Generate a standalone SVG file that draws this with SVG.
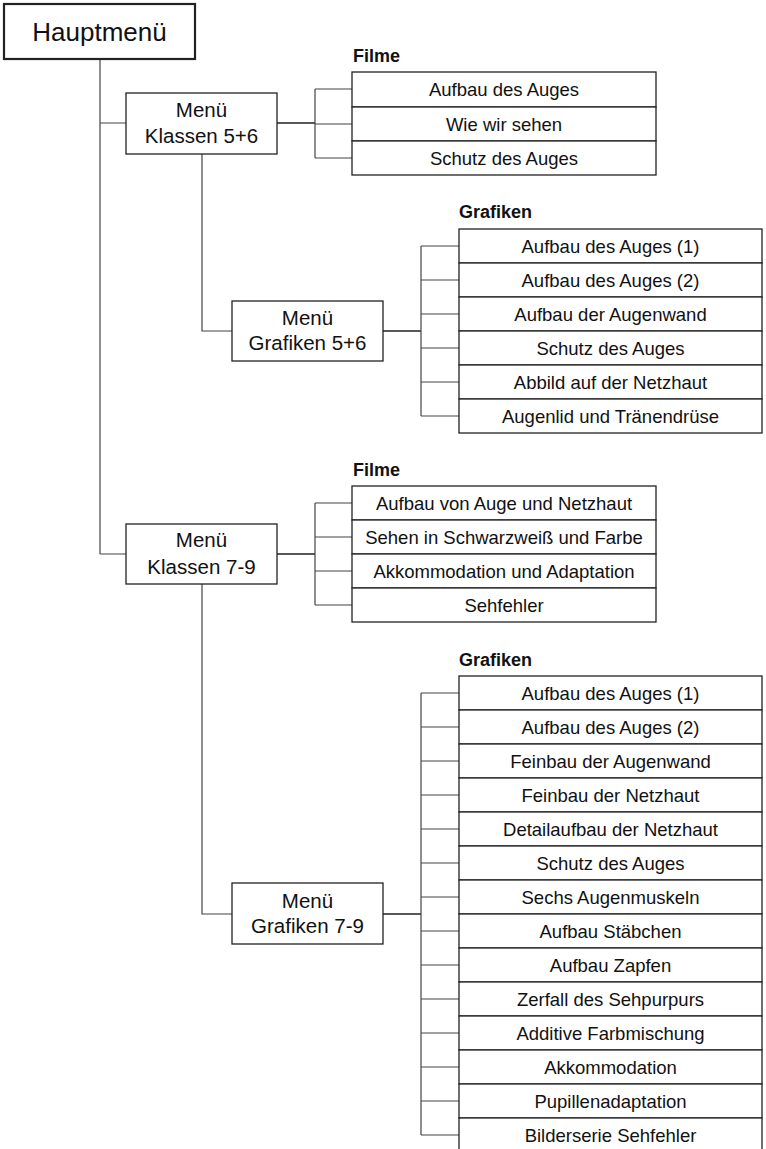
<svg xmlns="http://www.w3.org/2000/svg" width="766" height="1149" viewBox="0 0 766 1149">
<style>
.bg{fill:#fff}
.box{fill:#fff;stroke:#222;stroke-width:1.3}
.main{fill:#fff;stroke:#222;stroke-width:2.2}
.t{font-family:"Liberation Sans",Arial,sans-serif;font-size:18.5px;fill:#111;text-anchor:middle}
.m{font-family:"Liberation Sans",Arial,sans-serif;font-size:20.5px;fill:#111;text-anchor:middle}
.h{font-family:"Liberation Sans",Arial,sans-serif;font-size:26px;fill:#111;text-anchor:middle}
.l{font-family:"Liberation Sans",Arial,sans-serif;font-size:18px;font-weight:bold;fill:#111}
.c{fill:none;stroke:#444;stroke-width:1.2}
.k{fill:none;stroke:#222;stroke-width:1.6}
</style>
<rect class="bg" x="0" y="0" width="766" height="1149"/>
<g id="connectors">
<path class="c" d="M100,59 V554 M100,123 H126 M100,554 H126"/>
<path class="c" d="M202,154 V331 H232 M202,584 V914 H232"/>
<path class="k" d="M277,123 H315 M383,331 H421 M277,554 H315 M383,914 H421"/>
<path class="c" d="M315,89 V158 M315,89 H352 M315,124 H352 M315,158 H352"/>
<path class="c" d="M421,246 V416 M421,246 H459 M421,280 H459 M421,314 H459 M421,348 H459 M421,382 H459 M421,416 H459"/>
<path class="c" d="M315,503 V605 M315,503 H352 M315,537 H352 M315,571 H352 M315,605 H352"/>
<path class="c" d="M421,693 V1135 M421,693 H459 M421,727 H459 M421,761 H459 M421,795 H459 M421,829 H459 M421,863 H459 M421,897 H459 M421,931 H459 M421,965 H459 M421,999 H459 M421,1033 H459 M421,1067 H459 M421,1101 H459 M421,1135 H459"/>
</g>
<g id="hauptmenu"><rect class="main" x="4" y="4" width="191" height="55"/><text class="h" x="99.5" y="41">Hauptmenü</text></g>
<g id="klassen56"><rect class="box" x="126" y="93" width="151" height="61"/><text class="m" x="201.5" y="117">Menü</text><text class="m" x="201.5" y="143">Klassen 5+6</text></g>
<g id="grafiken56"><rect class="box" x="232" y="301" width="151" height="60"/><text class="m" x="307.5" y="325">Menü</text><text class="m" x="307.5" y="350">Grafiken 5+6</text></g>
<g id="klassen79"><rect class="box" x="126" y="524" width="151" height="60"/><text class="m" x="201.5" y="547">Menü</text><text class="m" x="201.5" y="574">Klassen 7-9</text></g>
<g id="grafiken79"><rect class="box" x="232" y="883" width="151" height="61"/><text class="m" x="307.5" y="908">Menü</text><text class="m" x="307.5" y="933">Grafiken 7-9</text></g>
<g id="filme56">
<text class="l" x="353" y="62">Filme</text>
<g id="f56-1"><rect class="box" x="352" y="72" width="304" height="35"/><text class="t" x="504" y="96">Aufbau des Auges</text></g>
<g id="f56-2"><rect class="box" x="352" y="107" width="304" height="34"/><text class="t" x="504" y="130.5">Wie wir sehen</text></g>
<g id="f56-3"><rect class="box" x="352" y="141" width="304" height="34"/><text class="t" x="504" y="164.5">Schutz des Auges</text></g>
</g>
<g id="graf56">
<text class="l" x="459" y="218">Grafiken</text>
<g id="g56-1"><rect class="box" x="459" y="229" width="303" height="34"/><text class="t" x="610.5" y="252.5">Aufbau des Auges (1)</text></g>
<g id="g56-2"><rect class="box" x="459" y="263" width="303" height="34"/><text class="t" x="610.5" y="286.5">Aufbau des Auges (2)</text></g>
<g id="g56-3"><rect class="box" x="459" y="297" width="303" height="34"/><text class="t" x="610.5" y="320.5">Aufbau der Augenwand</text></g>
<g id="g56-4"><rect class="box" x="459" y="331" width="303" height="34"/><text class="t" x="610.5" y="354.5">Schutz des Auges</text></g>
<g id="g56-5"><rect class="box" x="459" y="365" width="303" height="34"/><text class="t" x="610.5" y="388.5">Abbild auf der Netzhaut</text></g>
<g id="g56-6"><rect class="box" x="459" y="399" width="303" height="34"/><text class="t" x="610.5" y="422.5">Augenlid und Tränendrüse</text></g>
</g>
<g id="filme79">
<text class="l" x="353" y="476">Filme</text>
<g id="f79-1"><rect class="box" x="352" y="486" width="304" height="34"/><text class="t" x="504" y="509.5">Aufbau von Auge und Netzhaut</text></g>
<g id="f79-2"><rect class="box" x="352" y="520" width="304" height="34"/><text class="t" x="504" y="543.5">Sehen in Schwarzweiß und Farbe</text></g>
<g id="f79-3"><rect class="box" x="352" y="554" width="304" height="34"/><text class="t" x="504" y="577.5">Akkommodation und Adaptation</text></g>
<g id="f79-4"><rect class="box" x="352" y="588" width="304" height="34"/><text class="t" x="504" y="611.5">Sehfehler</text></g>
</g>
<g id="graf79">
<text class="l" x="459" y="666">Grafiken</text>
<g id="g79-1"><rect class="box" x="459" y="676" width="303" height="34"/><text class="t" x="610.5" y="699.5">Aufbau des Auges (1)</text></g>
<g id="g79-2"><rect class="box" x="459" y="710" width="303" height="34"/><text class="t" x="610.5" y="733.5">Aufbau des Auges (2)</text></g>
<g id="g79-3"><rect class="box" x="459" y="744" width="303" height="34"/><text class="t" x="610.5" y="767.5">Feinbau der Augenwand</text></g>
<g id="g79-4"><rect class="box" x="459" y="778" width="303" height="34"/><text class="t" x="610.5" y="801.5">Feinbau der Netzhaut</text></g>
<g id="g79-5"><rect class="box" x="459" y="812" width="303" height="34"/><text class="t" x="610.5" y="835.5">Detailaufbau der Netzhaut</text></g>
<g id="g79-6"><rect class="box" x="459" y="846" width="303" height="34"/><text class="t" x="610.5" y="869.5">Schutz des Auges</text></g>
<g id="g79-7"><rect class="box" x="459" y="880" width="303" height="34"/><text class="t" x="610.5" y="903.5">Sechs Augenmuskeln</text></g>
<g id="g79-8"><rect class="box" x="459" y="914" width="303" height="34"/><text class="t" x="610.5" y="937.5">Aufbau Stäbchen</text></g>
<g id="g79-9"><rect class="box" x="459" y="948" width="303" height="34"/><text class="t" x="610.5" y="971.5">Aufbau Zapfen</text></g>
<g id="g79-10"><rect class="box" x="459" y="982" width="303" height="34"/><text class="t" x="610.5" y="1005.5">Zerfall des Sehpurpurs</text></g>
<g id="g79-11"><rect class="box" x="459" y="1016" width="303" height="34"/><text class="t" x="610.5" y="1039.5">Additive Farbmischung</text></g>
<g id="g79-12"><rect class="box" x="459" y="1050" width="303" height="34"/><text class="t" x="610.5" y="1073.5">Akkommodation</text></g>
<g id="g79-13"><rect class="box" x="459" y="1084" width="303" height="34"/><text class="t" x="610.5" y="1107.5">Pupillenadaptation</text></g>
<g id="g79-14"><rect class="box" x="459" y="1118" width="303" height="36"/><text class="t" x="610.5" y="1141.5">Bilderserie Sehfehler</text></g>
</g>
</svg>
